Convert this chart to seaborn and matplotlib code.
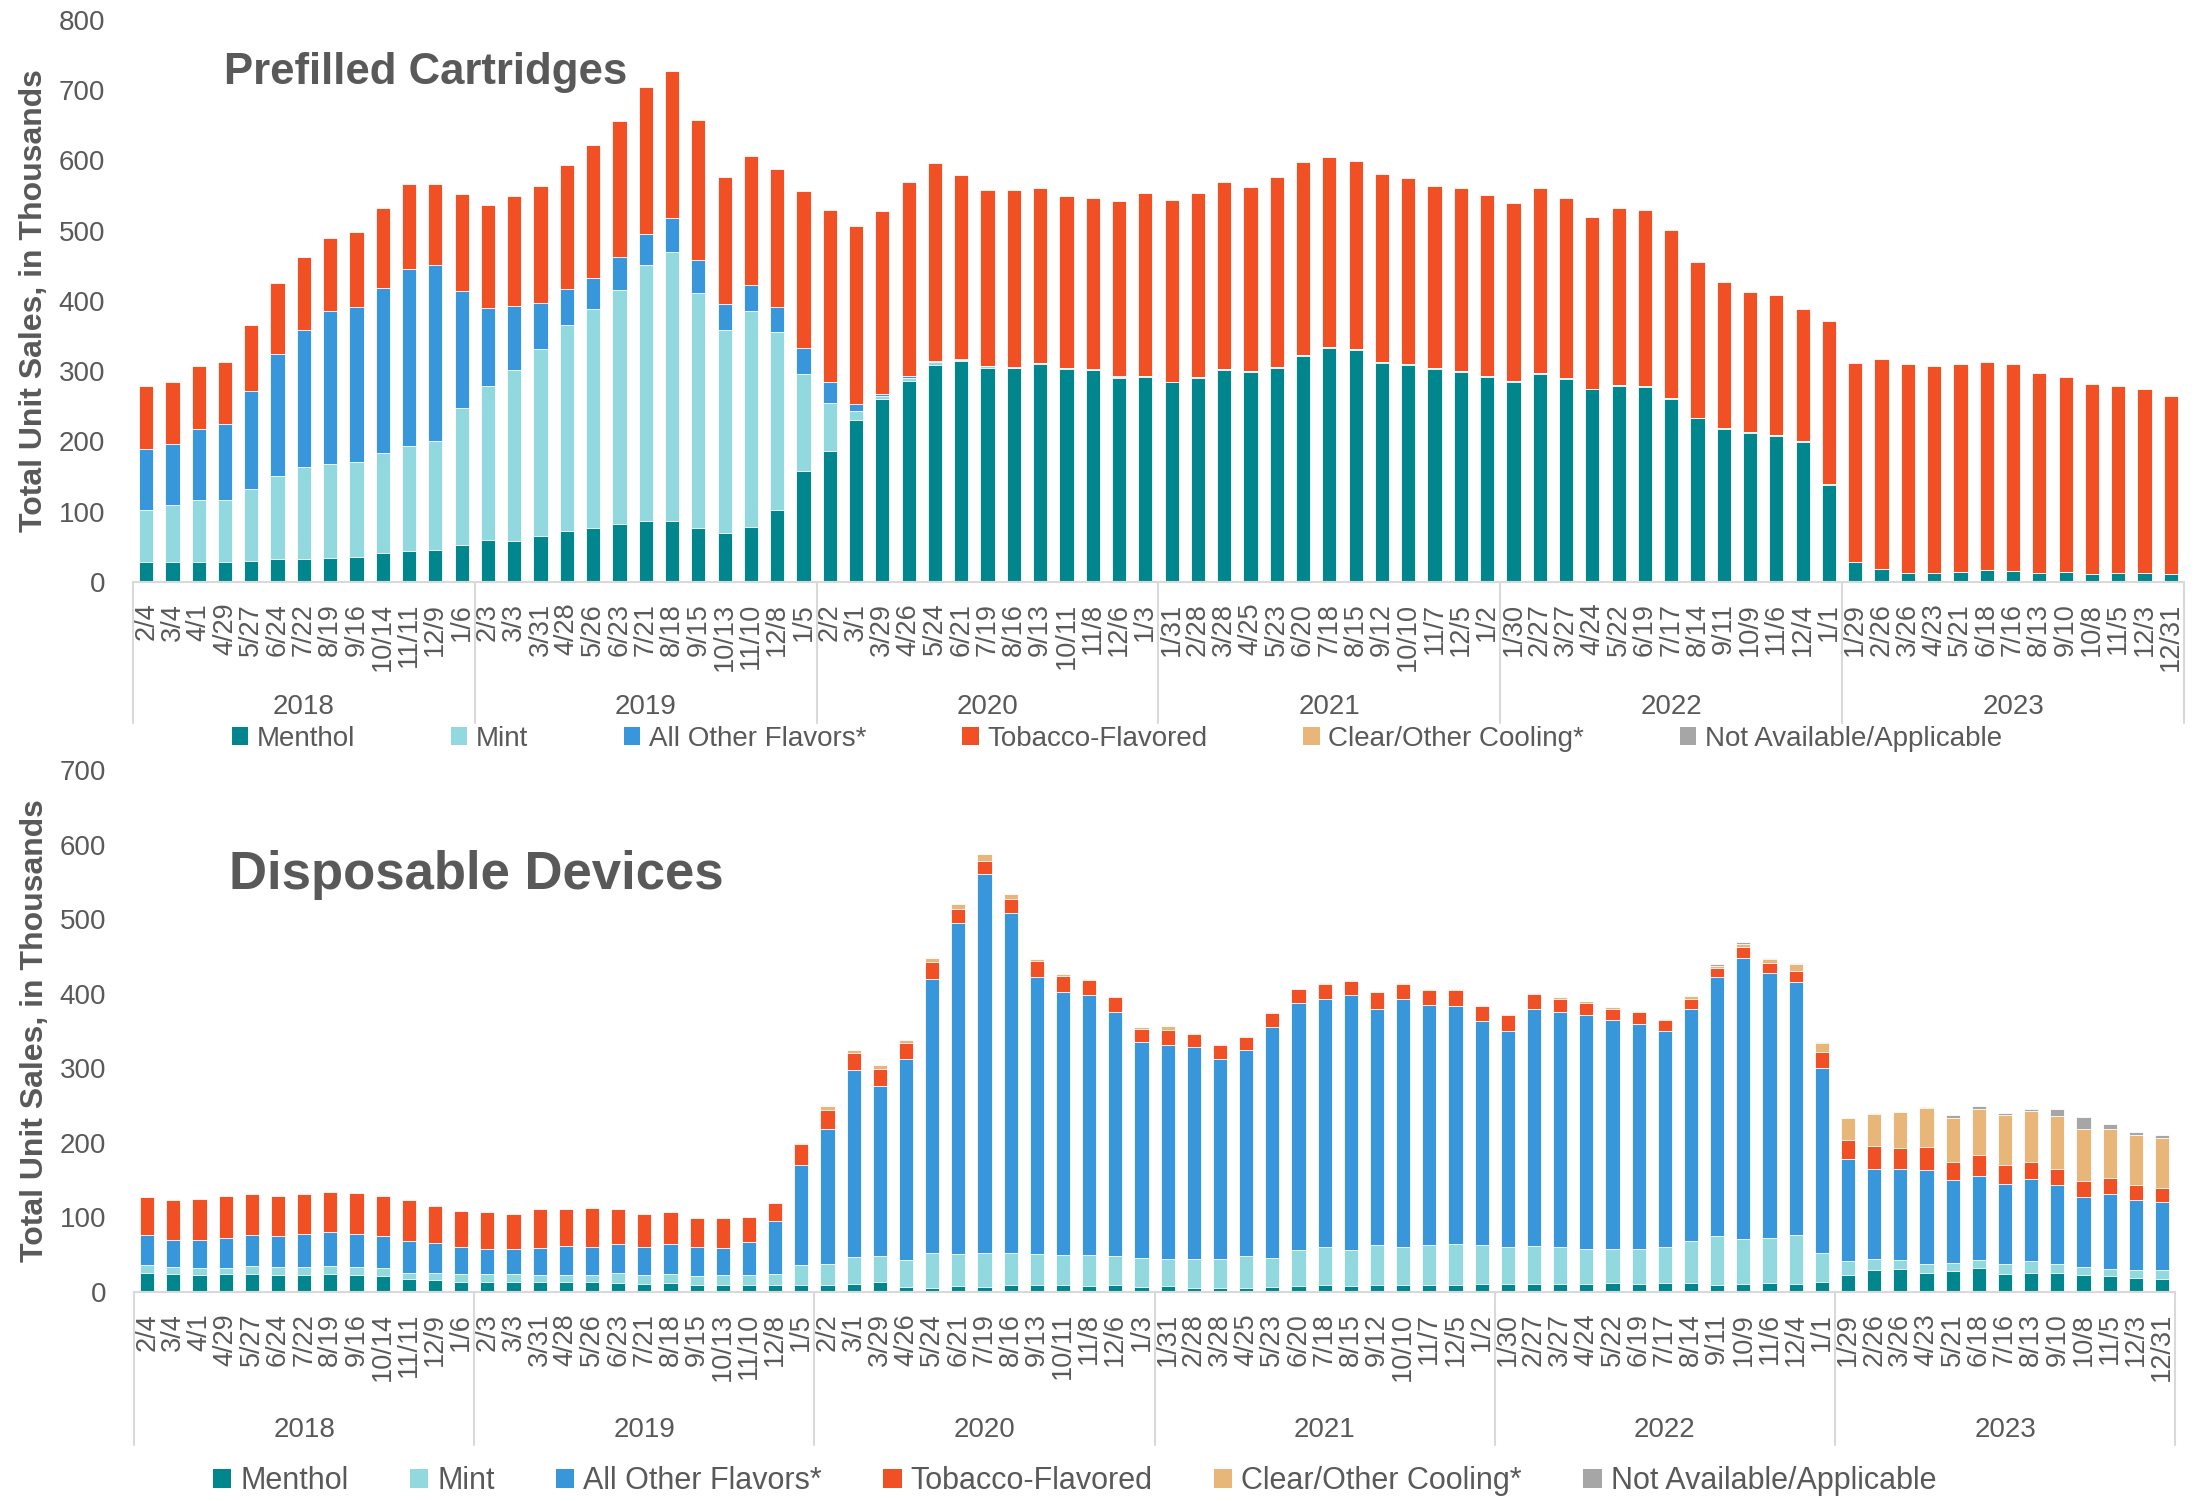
import matplotlib
matplotlib.use("Agg")
import matplotlib.pyplot as plt
from matplotlib.patches import Patch
import numpy as np
import seaborn as sns

# 4-week periods, 13 per reporting year
periods = ['2/4', '3/4', '4/1', '4/29', '5/27', '6/24', '7/22', '8/19', '9/16', '10/14', '11/11', '12/9', '1/6',
           '2/3', '3/3', '3/31', '4/28', '5/26', '6/23', '7/21', '8/18', '9/15', '10/13', '11/10', '12/8', '1/5',
           '2/2', '3/1', '3/29', '4/26', '5/24', '6/21', '7/19', '8/16', '9/13', '10/11', '11/8', '12/6', '1/3',
           '1/31', '2/28', '3/28', '4/25', '5/23', '6/20', '7/18', '8/15', '9/12', '10/10', '11/7', '12/5', '1/2',
           '1/30', '2/27', '3/27', '4/24', '5/22', '6/19', '7/17', '8/14', '9/11', '10/9', '11/6', '12/4', '1/1',
           '1/29', '2/26', '3/26', '4/23', '5/21', '6/18', '7/16', '8/13', '9/10', '10/8', '11/5', '12/3', '12/31']
years = ['2018', '2019', '2020', '2021', '2022', '2023']
flavors = ['Menthol', 'Mint', 'All Other Flavors*', 'Tobacco-Flavored', 'Clear/Other Cooling*',
           'Not Available/Applicable']
colors = ['#02868D', '#92D9DF', '#3896DA', '#F05023', '#E8B679', '#A6A6A6']

# Prefilled cartridges, thousands of units
cart_menthol = [28, 29, 29, 28, 30, 33, 33, 34, 35, 41, 44, 45, 52,
                59, 58, 66, 73, 77, 82, 87, 87, 77, 70, 78, 102, 158,
                187, 230, 260, 286, 309, 315, 305, 304, 310, 303, 301, 291, 292,
                284, 291, 302, 299, 305, 322, 333, 330, 312, 309, 303, 299, 292,
                285, 296, 289, 274, 279, 278, 261, 233, 218, 212, 208, 199, 138,
                28, 18, 13, 13, 14, 17, 15, 13, 14, 12, 13, 13, 11]
cart_mint = [75, 80, 87, 88, 102, 118, 130, 134, 136, 142, 149, 156, 196,
             220, 243, 265, 293, 312, 333, 364, 382, 334, 289, 307, 254, 138,
             68, 14, 4, 4, 4, 1, 2, 1, 1, 1, 1, 1, 1,
             1, 1, 1, 1, 1, 1, 1, 1, 1, 1, 1, 1, 1,
             1, 1, 1, 1, 1, 1, 1, 1, 1, 1, 1, 1, 1,
             0, 0, 0, 0, 0, 0, 0, 0, 0, 0, 0, 0, 0]
cart_other = [86, 87, 102, 109, 140, 173, 195, 217, 221, 235, 253, 250, 166,
              111, 92, 66, 51, 44, 48, 45, 49, 47, 37, 37, 36, 37,
              29, 9, 3, 3, 2, 1, 1, 0.5, 0.5, 0.5, 0.5, 0.5, 0.5,
              0, 0, 0, 0, 0, 0, 0, 0, 0, 0, 0, 0, 0,
              0, 0, 0, 0, 0, 0, 0, 0, 0, 0, 0, 0, 0,
              0, 0, 0, 0, 0, 0, 0, 0, 0, 0, 0, 0, 0]
cart_tobacco = [90, 88, 89, 88, 94, 101, 104, 104, 106, 114, 121, 116, 138,
                146, 156, 167, 176, 189, 193, 208, 210, 199, 181, 185, 196, 224,
                246, 253, 261, 276, 281, 262, 250, 252, 249, 245, 244, 250, 260,
                259, 261, 267, 262, 270, 275, 271, 268, 268, 265, 260, 261, 258,
                253, 264, 256, 245, 252, 251, 239, 222, 208, 200, 200, 189, 233,
                284, 300, 297, 295, 296, 296, 295, 284, 278, 270, 266, 262, 253]
cart_clear = [0] * 78
cart_na = [0] * 78

# Disposable devices, thousands of units
disp_menthol = [25, 24, 23, 24, 24, 23, 23, 24, 23, 22, 17, 16, 14,
                14, 13, 14, 13, 13, 12, 11, 12, 10, 10, 9, 9, 10,
                9, 11, 14, 7, 6, 8, 7, 10, 10, 9, 8, 9, 7,
                8, 5, 5, 5, 7, 8, 10, 8, 9, 10, 10, 10, 11,
                11, 11, 11, 11, 12, 11, 12, 12, 10, 11, 12, 11, 13,
                23, 29, 31, 26, 28, 32, 24, 25, 25, 23, 21, 19, 18]
disp_mint = [11, 9, 9, 8, 11, 11, 10, 11, 10, 10, 9, 10, 10,
             10, 11, 9, 10, 10, 14, 12, 12, 12, 13, 14, 15, 26,
             29, 36, 35, 36, 47, 43, 46, 42, 41, 41, 42, 40, 39,
             37, 40, 39, 44, 39, 49, 51, 49, 54, 50, 53, 54, 52,
             49, 51, 49, 47, 46, 47, 49, 57, 65, 60, 61, 65, 40,
             18, 15, 12, 11, 11, 11, 13, 16, 13, 11, 10, 11, 11]
disp_other = [40, 37, 38, 40, 42, 41, 45, 46, 45, 43, 43, 40, 37,
              34, 34, 36, 39, 38, 39, 37, 40, 38, 36, 44, 71, 135,
              180, 251, 227, 269, 367, 444, 508, 456, 372, 353, 348, 326, 289,
              286, 283, 269, 276, 310, 330, 332, 341, 317, 333, 322, 319, 300,
              290, 318, 315, 313, 307, 302, 289, 310, 347, 377, 355, 340, 247,
              137, 121, 122, 126, 111, 112, 108, 111, 106, 94, 101, 94, 92]
disp_tobacco = [52, 53, 55, 57, 55, 54, 53, 53, 55, 54, 54, 50, 48,
                50, 47, 52, 50, 52, 46, 44, 43, 39, 40, 33, 24, 28,
                26, 22, 23, 22, 23, 18, 17, 19, 21, 21, 20, 20, 18,
                21, 18, 18, 17, 18, 19, 20, 19, 22, 20, 20, 22, 20,
                22, 20, 18, 17, 15, 16, 15, 14, 12, 15, 13, 15, 22,
                26, 31, 28, 32, 25, 29, 25, 22, 21, 21, 21, 20, 18]
disp_clear = [0, 0, 0, 0, 0, 0, 0, 0, 0, 0, 0, 0, 0,
              0, 0, 0, 0, 0, 0, 0, 0, 0, 0, 0, 1, 1,
              5, 5, 5, 4, 5, 7, 9, 7, 3, 3, 2, 2, 2,
              5, 2, 1, 1, 1, 1, 1, 1, 1, 1, 1, 1, 1,
              1, 1, 2, 2, 2, 1, 1, 4, 3, 4, 6, 9, 12,
              29, 43, 49, 52, 59, 61, 68, 69, 71, 70, 65, 66, 67]
disp_na = [0, 0, 0, 0, 0, 0, 0, 0, 0, 0, 0, 0, 0,
           0, 0, 0, 0, 0, 0, 0, 0, 0, 0, 0, 0, 0,
           0, 0, 0, 0, 0, 0, 0, 0, 0, 0, 0, 0, 0,
           0, 0, 0, 0, 0, 0, 0, 0, 0, 0, 0, 0, 0,
           0, 0, 0, 0, 0, 0, 0, 0.5, 3, 2, 1, 1, 1,
           1, 1, 0, 0.5, 4, 4, 2, 2, 9, 16, 8, 4, 4]

GREY = '#595959'
LINE = '#D9D9D9'

sns.set_theme(style='white')
plt.rcParams['font.family'] = ['Liberation Sans', 'DejaVu Sans']


def stacked_panel(ax, layers, ymax, title, title_xy, title_size, sep_len, year_y):
    cum = np.cumsum(np.array(layers, dtype=float), axis=0)
    x = np.arange(len(periods))
    # draw cumulative totals back to front so the segments stack
    for i in reversed(range(len(layers))):
        sns.barplot(x=x, y=cum[i], color=colors[i], saturation=1, width=0.54,
                    edgecolor='white', linewidth=0.6, ax=ax)

    ax.set_xlim(-0.5, len(periods) - 0.5)
    ax.set_ylim(0, ymax)
    ax.set_yticks(range(0, ymax + 1, 100))
    ax.set_xticks(x)
    ax.set_xticklabels(periods, rotation=90, fontsize=19.5, color=GREY)
    ax.tick_params(axis='x', length=0, pad=15)
    ax.tick_params(axis='y', length=0, pad=20, labelsize=20, labelcolor=GREY)
    ax.set_xlabel('')

    for side in ['top', 'right', 'left']:
        ax.spines[side].set_visible(False)
    ax.spines['bottom'].set_color(LINE)
    ax.spines['bottom'].set_linewidth(1.5)

    trans = ax.get_xaxis_transform()
    for k in range(len(years) + 1):
        b = k * 13 - 0.5
        ax.plot([b, b], [0, sep_len], color=LINE, lw=1.5, transform=trans, clip_on=False)
    for k, yr in enumerate(years):
        ax.text(k * 13 + 6, year_y, yr, transform=trans, ha='center', va='center',
                fontsize=20, color=GREY)

    ax.set_ylabel('Total Unit Sales, in Thousands', fontsize=23, fontweight='bold', color=GREY)
    ax.yaxis.set_label_coords(-0.041, 0.5)
    ax.text(title_xy[0], title_xy[1], title, transform=ax.transAxes, fontsize=title_size,
            fontweight='bold', color=GREY, ha='left', va='baseline')


fig = plt.figure(figsize=(21.98, 15.01), dpi=100)
ax1 = fig.add_axes([0.0605, 0.6123, 0.9331, 0.3744])
ax2 = fig.add_axes([0.061, 0.1392, 0.9286, 0.3478])

stacked_panel(ax1, [cart_menthol, cart_mint, cart_other, cart_tobacco, cart_clear, cart_na],
              800, 'Prefilled Cartridges', (0.0444, 0.886), 31.5, -0.251, -0.222)
stacked_panel(ax2, [disp_menthol, disp_mint, disp_other, disp_tobacco, disp_clear, disp_na],
              700, 'Disposable Devices', (0.0463, 0.772), 38, -0.293, -0.264)

handles = [Patch(facecolor=c, edgecolor='none') for c in colors]
fig.legend(handles, flavors, loc='center', bbox_to_anchor=(0.508, 0.5077), ncol=6, frameon=False,
           fontsize=20, labelcolor=GREY, handlelength=0.6, handleheight=0.6, handletextpad=0.3,
           columnspacing=3.45, borderpad=0, borderaxespad=0)
fig.legend(handles, flavors, loc='center', bbox_to_anchor=(0.4889, 0.013), ncol=6, frameon=False,
           fontsize=22, labelcolor=GREY, handlelength=0.6, handleheight=0.6, handletextpad=0.3,
           columnspacing=2.0, borderpad=0, borderaxespad=0)

fig.savefig('out.png', dpi=100)
